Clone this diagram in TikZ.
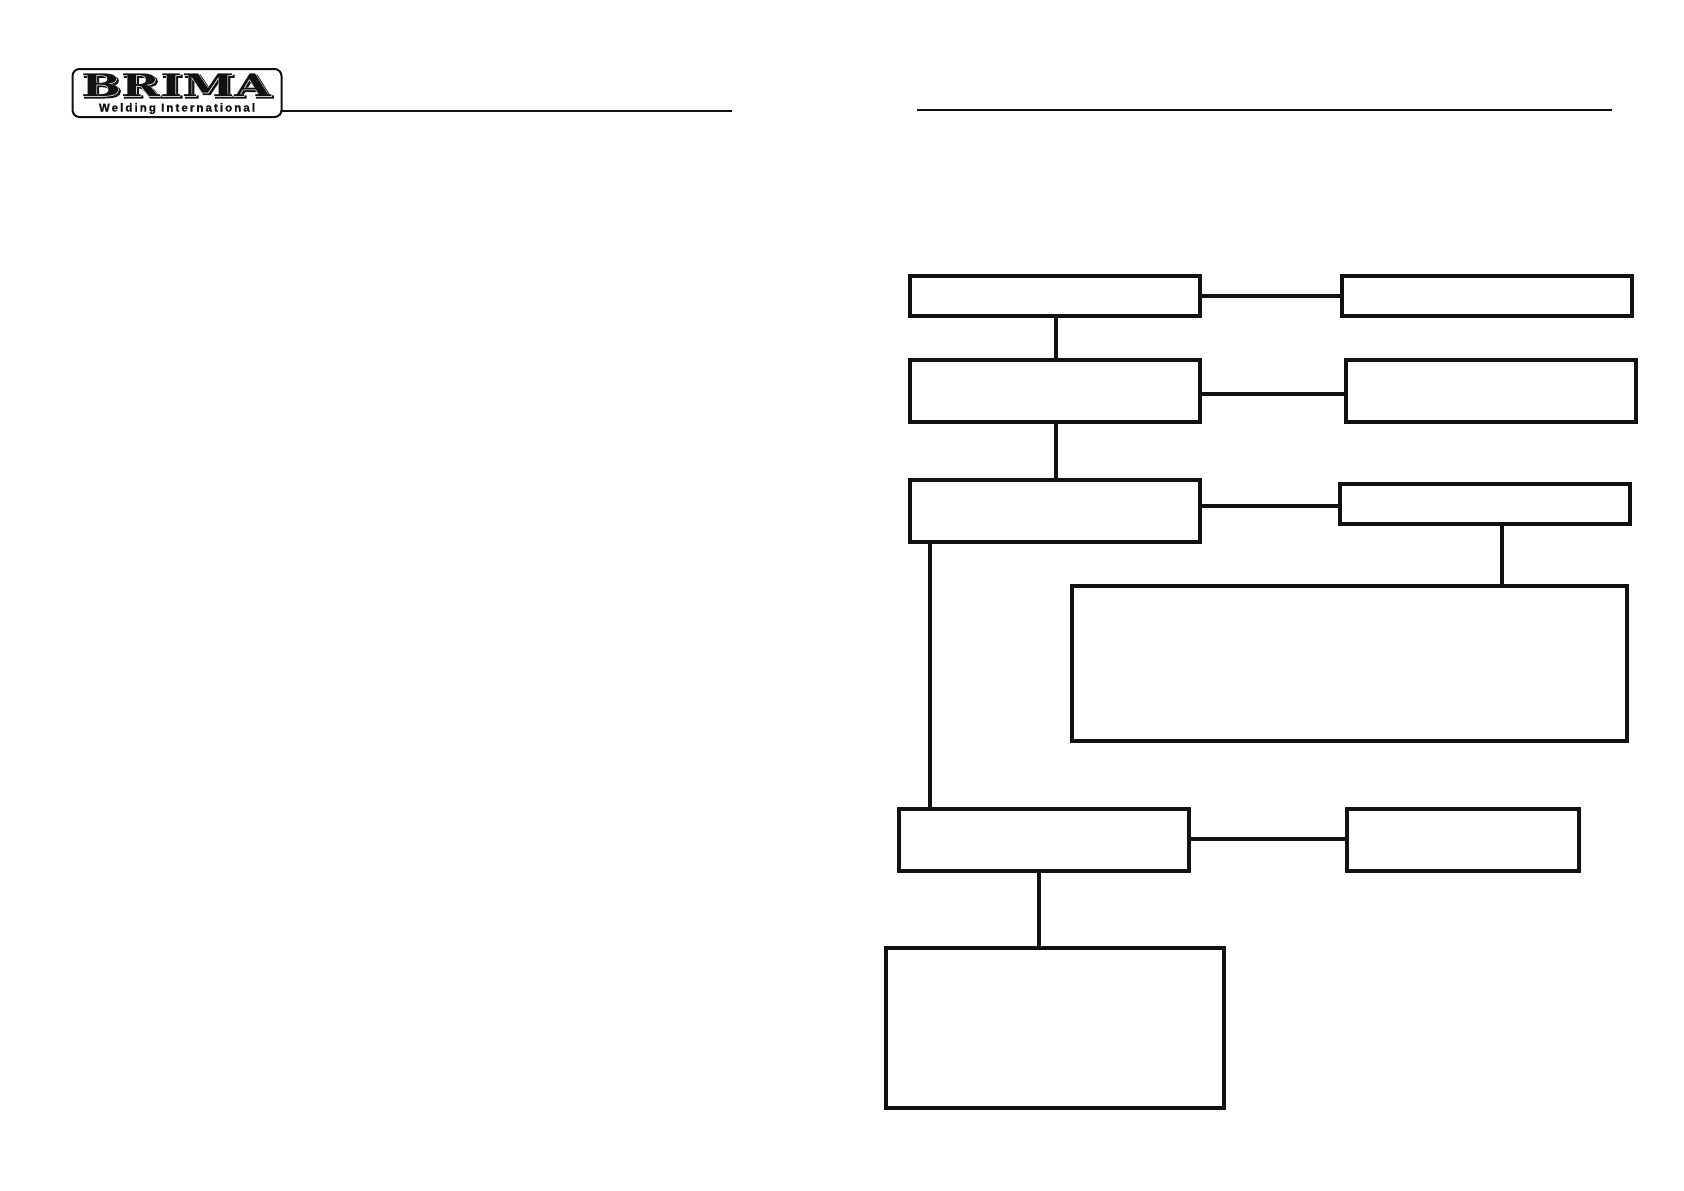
\documentclass[tikz,border=0pt]{standalone}
\usepackage{fontspec}
\setmainfont{DejaVu Serif}
\newfontfamily\logofont{DejaVu Serif Bold}
\newfontfamily\logohalo{DejaVu Serif Bold}[FakeBold=2]
\newfontfamily\logoshade{DejaVu Serif Bold}[FakeBold=4]
\newfontfamily\subfont{Liberation Sans Bold}[LetterSpace=18,FakeBold=1]
\definecolor{ink}{HTML}{111111}
\tikzset{
  boxn/.style={draw=ink,line width=4.3pt,fill=white,inner sep=0pt,outer sep=0pt,rectangle,anchor=north west},
  conn/.style={draw=ink,line width=4.3pt},
  rulel/.style={draw=ink,line width=2pt},
  logof/.style={inner sep=0pt,outer sep=0pt,anchor=center,xscale=1.52,yscale=1},
}
\begin{document}
\begin{tikzpicture}[x=1pt,y=-1pt]
\useasboundingbox (0,0) rectangle (1684,1191);
% header
\node[draw=ink,line width=2pt,rounded corners=7pt,fill=white,inner sep=0pt,outer sep=0pt,minimum width=209pt,minimum height=48pt,anchor=north west] (logo) at (72.5,69) {};
\coordinate (ruleA) at (732,110.5);
\coordinate (ruleB) at (917,110);
\coordinate (ruleC) at (1612,110);
\draw[rulel] (logo.east |- ruleA) -- (ruleA);
\draw[rulel] (ruleB) -- (ruleC);
% logo lettering
\node[logof,text=ink] (brimashade) at (177.6,86.6) {\fontsize{31}{31}\logoshade BRIMA};
\node[logof,text=white] (brimahalo) at (176,85) {\fontsize{31}{31}\logohalo BRIMA};
\node[logof,text=ink] (brima) at (176,85) {\fontsize{31}{31}\logofont BRIMA};
\node[inner sep=0pt,text=ink] (weld) at (177,108.6) {\fontsize{11.5}{11.5}\subfont Welding International};
% boxes
\node[boxn,minimum width=290pt,minimum height=40pt] (a1) at (910,276) {};
\node[boxn,minimum width=290pt,minimum height=40pt] (a2) at (1342,276) {};
\node[boxn,minimum width=290pt,minimum height=62pt] (b1) at (910,360) {};
\node[boxn,minimum width=290pt,minimum height=62pt] (b2) at (1346,360) {};
\node[boxn,minimum width=290pt,minimum height=62pt] (c1) at (910,480) {};
\node[boxn,minimum width=290pt,minimum height=40pt] (c2) at (1340,484) {};
\node[boxn,minimum width=555pt,minimum height=155pt] (d) at (1072,586) {};
\node[boxn,minimum width=290pt,minimum height=62pt] (e1) at (899,809) {};
\node[boxn,minimum width=232pt,minimum height=62pt] (e2) at (1347,809) {};
\node[boxn,minimum width=338pt,minimum height=160pt] (f) at (886,948) {};
% connectors
\draw[conn] (a1.east) -- (a2.west);
\draw[conn] ([xshift=1pt]a1.south) -- ([xshift=1pt]a1.south |- b1.north);
\draw[conn] ([yshift=-3pt]b1.east) -- ([yshift=-3pt]b2.west);
\draw[conn] ([xshift=1pt]b1.south) -- ([xshift=1pt]b1.south |- c1.north);
\draw[conn] ([yshift=5pt]c1.east) -- ([yshift=-2pt]c2.west);
\draw[conn] ([xshift=17pt]c2.south) -- ([xshift=17pt]c2.south |- d.north);
\draw[conn] ([xshift=-125pt]c1.south) -- ([xshift=-125pt]c1.south |- e1.north);
\draw[conn] ([yshift=1pt]e1.east) -- ([yshift=1pt]e1.east -| e2.west);
\draw[conn] ([xshift=-5pt]e1.south) -- ([xshift=-5pt]e1.south |- f.north);
\end{tikzpicture}
\end{document}
